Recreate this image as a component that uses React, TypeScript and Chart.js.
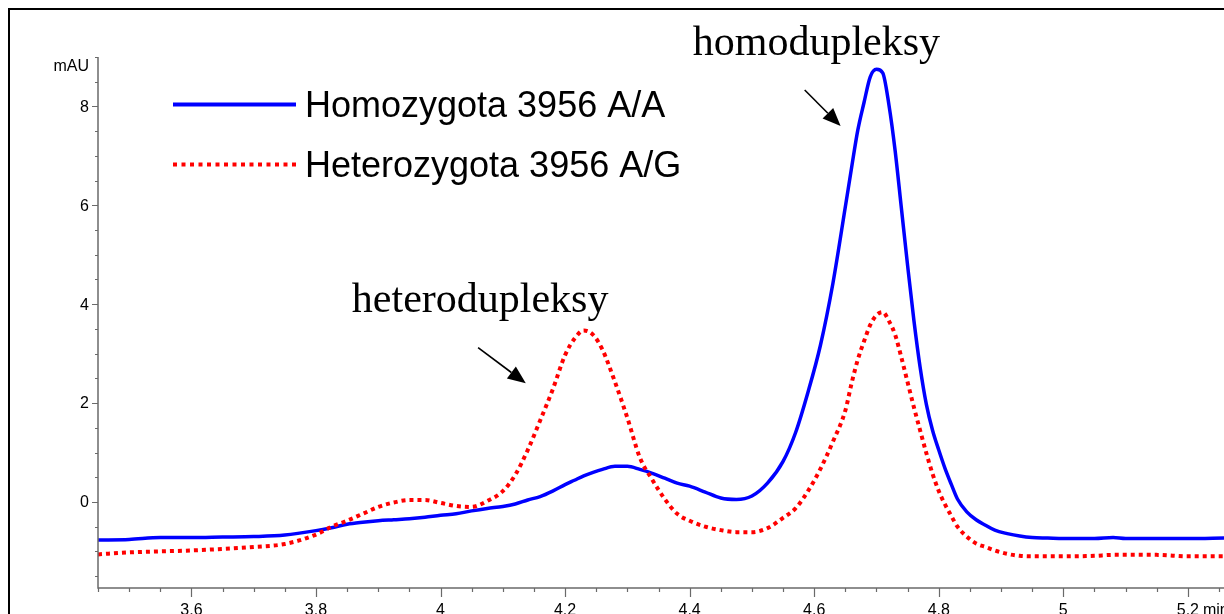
import React, { useEffect, useRef } from "react";
import { Chart, registerables } from "chart.js";

Chart.register(...registerables);

// Retention time (min)
const times = [
  3.45, 3.5, 3.55, 3.6, 3.65, 3.7, 3.75, 3.8, 3.825, 3.85, 3.875, 3.9, 3.925, 3.95, 3.975,
  4.0, 4.025, 4.05, 4.075, 4.1, 4.12, 4.14, 4.16, 4.18, 4.2, 4.215, 4.23, 4.245, 4.26, 4.28,
  4.3, 4.32, 4.34, 4.36, 4.38, 4.4, 4.425, 4.45, 4.475, 4.5, 4.525, 4.55, 4.57, 4.59, 4.61,
  4.63, 4.65, 4.66, 4.67, 4.68, 4.69, 4.7, 4.71, 4.72, 4.73, 4.74, 4.75, 4.76, 4.77, 4.78,
  4.79, 4.8, 4.81, 4.82, 4.83, 4.845, 4.86, 4.875, 4.89, 4.91, 4.93, 4.95, 4.975, 5.0, 5.05,
  5.08, 5.1, 5.15, 5.2, 5.26,
];

// Homozygota 3956 A/A (mAU)
const homozygotaAA = [
  -0.77, -0.76, -0.72, -0.72, -0.71, -0.7, -0.67, -0.58, -0.52, -0.45, -0.41, -0.38, -0.36, -0.34, -0.31,
  -0.27, -0.24, -0.18, -0.13, -0.09, -0.04, 0.04, 0.11, 0.22, 0.35, 0.44, 0.53, 0.6, 0.66, 0.72,
  0.72, 0.66, 0.58, 0.48, 0.38, 0.32, 0.2, 0.08, 0.05, 0.12, 0.38, 0.82, 1.4, 2.22, 3.17,
  4.42, 5.97, 6.76, 7.52, 8.08, 8.6, 8.75, 8.68, 8.03, 7.1, 5.94, 4.78, 3.68, 2.73, 1.98,
  1.45, 1.05, 0.68, 0.36, 0.06, -0.2, -0.36, -0.47, -0.57, -0.64, -0.69, -0.72, -0.73, -0.74, -0.74,
  -0.72, -0.74, -0.74, -0.74, -0.73,
];

// Heterozygota 3956 A/G (mAU)
const heterozygotaAG = [
  -1.06, -1.02, -1.0, -0.98, -0.95, -0.91, -0.85, -0.66, -0.5, -0.38, -0.24, -0.1, -0.01, 0.04, 0.04,
  -0.02, -0.08, -0.1, 0.02, 0.22, 0.55, 1.05, 1.65, 2.27, 2.97, 3.3, 3.47, 3.38, 3.08, 2.43,
  1.7, 0.9, 0.45, 0.06, -0.24, -0.38, -0.5, -0.57, -0.61, -0.61, -0.53, -0.32, -0.13, 0.22, 0.67,
  1.22, 1.85, 2.4, 2.88, 3.25, 3.58, 3.78, 3.84, 3.66, 3.38, 2.92, 2.42, 1.92, 1.45, 0.99,
  0.57, 0.22, -0.05, -0.28, -0.5, -0.7, -0.84, -0.91, -0.98, -1.05, -1.09, -1.1, -1.1, -1.1, -1.09,
  -1.07, -1.07, -1.07, -1.1, -1.1,
];

const seriesNames = ["Homozygota 3956 A/A", "Heterozygota 3956 A/G"];
const xTickValues = [3.6, 3.8, 4, 4.2, 4.4, 4.6, 4.8, 5, 5.2];
const xTickLabels = ["3.6", "3.8", "4", "4.2", "4.4", "4.6", "4.8", "5", "5.2"];
const yTickValues = [0, 2, 4, 6, 8];
const yTickLabels = ["0", "2", "4", "6", "8"];
const xUnit = "min";
const yUnit = "mAU";
const annotationTexts = ["homodupleksy", "heterodupleksy"];

const X_MIN = 3.45;
const X_MAX = 5.258;
const Y_MIN = -1.74;
const Y_MAX = 9;

const drawArrow = (ctx: CanvasRenderingContext2D, x1: number, y1: number, x2: number, y2: number) => {
  const ang = Math.atan2(y2 - y1, x2 - x1);
  const headLen = 18;
  const headW = 7.5;
  const bx = x2 - headLen * Math.cos(ang);
  const by = y2 - headLen * Math.sin(ang);
  ctx.strokeStyle = "#000";
  ctx.lineWidth = 1.6;
  ctx.beginPath();
  ctx.moveTo(x1, y1);
  ctx.lineTo(bx, by);
  ctx.stroke();
  ctx.fillStyle = "#000";
  ctx.beginPath();
  ctx.moveTo(x2, y2);
  ctx.lineTo(bx + headW * Math.sin(ang), by - headW * Math.cos(ang));
  ctx.lineTo(bx - headW * Math.sin(ang), by + headW * Math.cos(ang));
  ctx.closePath();
  ctx.fill();
};

const decorPlugin = {
  id: "decor",
  afterDraw(chart: any) {
    const ctx: CanvasRenderingContext2D = chart.ctx;
    const xs = chart.scales.x;
    const ys = chart.scales.y;
    const a = chart.chartArea;
    ctx.save();

    // axes
    ctx.strokeStyle = "#6a6a6a";
    ctx.lineWidth = 1.5;
    ctx.beginPath();
    ctx.moveTo(a.left, a.top);
    ctx.lineTo(a.left, a.bottom);
    ctx.lineTo(a.right, a.bottom);
    ctx.stroke();

    // y ticks
    ctx.lineWidth = 1.2;
    ctx.beginPath();
    for (let i = 0; i <= 21; i++) {
      const v = -1.5 + i * 0.5;
      const y = Math.round(ys.getPixelForValue(v)) + 0.5;
      const major = i >= 3 && (i - 3) % 4 === 0;
      ctx.moveTo(a.left - (major ? 6 : 3), y);
      ctx.lineTo(a.left, y);
    }
    // x ticks
    for (let k = 0; k <= 36; k++) {
      const v = X_MIN + k * 0.05;
      const x = Math.round(xs.getPixelForValue(v)) + 0.5;
      const major = k >= 3 && (k - 3) % 4 === 0;
      ctx.moveTo(x, a.bottom);
      ctx.lineTo(x, a.bottom + (major ? 9 : 4));
    }
    ctx.stroke();

    // tick labels
    ctx.fillStyle = "#000";
    ctx.font = '16px "Liberation Sans", Arial, sans-serif';
    ctx.textAlign = "right";
    ctx.textBaseline = "middle";
    yTickValues.forEach((v, i) => {
      ctx.fillText(yTickLabels[i], a.left - 9, ys.getPixelForValue(v) + 1);
    });
    ctx.fillText(yUnit, a.left - 9, ys.getPixelForValue(Y_MAX) + 10);
    ctx.textAlign = "center";
    ctx.textBaseline = "alphabetic";
    xTickValues.forEach((v, i) => {
      ctx.fillText(xTickLabels[i], xs.getPixelForValue(v), a.bottom + 27);
    });
    ctx.textAlign = "left";
    ctx.fillText(xUnit, xs.getPixelForValue(5.2) + 15, a.bottom + 27);

    // legend
    ctx.lineCap = "butt";
    ctx.strokeStyle = "#0000ff";
    ctx.lineWidth = 4;
    ctx.setLineDash([]);
    ctx.beginPath();
    ctx.moveTo(173, 104.5);
    ctx.lineTo(296, 104.5);
    ctx.stroke();
    ctx.strokeStyle = "#ff0000";
    ctx.setLineDash([4, 4.5]);
    ctx.beginPath();
    ctx.moveTo(173, 164.5);
    ctx.lineTo(296, 164.5);
    ctx.stroke();
    ctx.setLineDash([]);
    ctx.fillStyle = "#000";
    ctx.font = '36px "Liberation Sans", Arial, sans-serif';
    ctx.textAlign = "left";
    ctx.fillText(seriesNames[0], 305, 117);
    ctx.fillText(seriesNames[1], 305, 177);

    // annotations
    ctx.font = '42px "Liberation Serif", "Times New Roman", serif';
    ctx.fillText(annotationTexts[0], xs.getPixelForValue(4.405), ys.getPixelForValue(9.04));
    ctx.fillText(annotationTexts[1], xs.getPixelForValue(3.8576), ys.getPixelForValue(3.84));
    drawArrow(
      ctx,
      xs.getPixelForValue(4.5847), ys.getPixelForValue(8.333),
      xs.getPixelForValue(4.6424), ys.getPixelForValue(7.605)
    );
    drawArrow(
      ctx,
      xs.getPixelForValue(4.0603), ys.getPixelForValue(3.121),
      xs.getPixelForValue(4.1369), ys.getPixelForValue(2.401)
    );

    // outer frame
    ctx.strokeStyle = "#000";
    ctx.lineWidth = 2;
    ctx.beginPath();
    ctx.moveTo(9, 614);
    ctx.lineTo(9, 9);
    ctx.lineTo(1224, 9);
    ctx.stroke();

    ctx.restore();
  },
};

export default function App() {
  const canvasRef = useRef<HTMLCanvasElement | null>(null);

  useEffect(() => {
    if (!canvasRef.current) return;
    const chart = new Chart(canvasRef.current, {
      type: "line",
      data: {
        datasets: [
          {
            label: seriesNames[1],
            data: times.map((t, i) => ({ x: t, y: heterozygotaAG[i] })),
            borderColor: "#ff0000",
            borderWidth: 4,
            borderDash: [4, 4],
            borderCapStyle: "butt",
            pointRadius: 0,
            cubicInterpolationMode: "monotone",
            fill: false,
            order: 0,
          },
          {
            label: seriesNames[0],
            data: times.map((t, i) => ({ x: t, y: homozygotaAA[i] })),
            borderColor: "#0000ff",
            borderWidth: 3.5,
            pointRadius: 0,
            cubicInterpolationMode: "monotone",
            fill: false,
            order: 1,
          },
        ],
      },
      options: {
        animation: false,
        responsive: false,
        maintainAspectRatio: false,
        layout: { padding: { left: 98, top: 57, right: 0, bottom: 26 } },
        plugins: {
          legend: { display: false },
          tooltip: { enabled: false },
        },
        scales: {
          x: { type: "linear", min: X_MIN, max: X_MAX, display: false },
          y: { type: "linear", min: Y_MIN, max: Y_MAX, display: false },
        },
      },
      plugins: [decorPlugin],
    } as any);
    return () => chart.destroy();
  }, []);

  return (
    <div style={{ position: "absolute", left: 0, top: 0, width: 1224, height: 614, background: "#fff" }}>
      <canvas ref={canvasRef} width={1224} height={614} style={{ display: "block" }} />
    </div>
  );
}
